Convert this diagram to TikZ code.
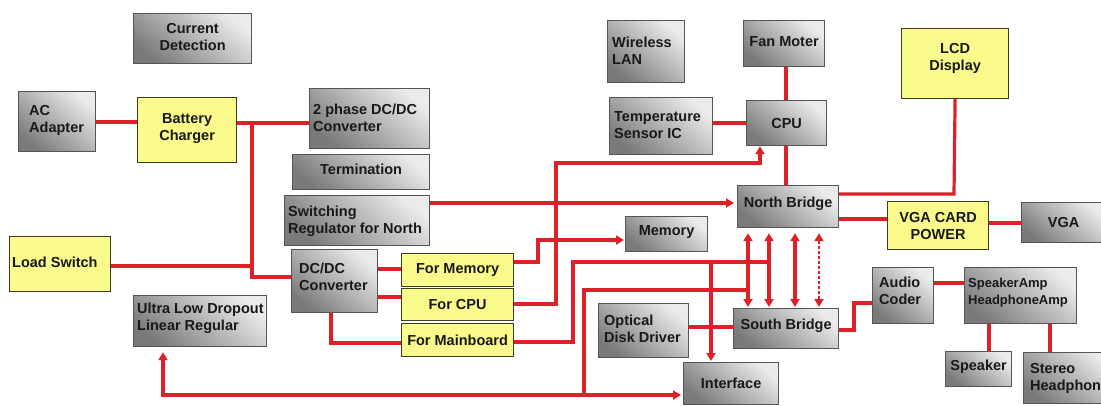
\documentclass[tikz,border=0pt]{standalone}
\usepackage{fontspec}
\setmainfont{Liberation Sans}
\usetikzlibrary{arrows.meta,calc}
\definecolor{wirered}{RGB}{222,32,40}
\definecolor{boxedge}{RGB}{85,85,85}
\definecolor{yfill}{RGB}{250,250,140}
\definecolor{yedge}{RGB}{60,60,30}
\definecolor{txtc}{RGB}{25,25,25}
\newcommand{\bx}[6]{\node[#2, anchor=north west, minimum width={#5-#3}, minimum height={#6-#4}] (#1) at (#3,#4) {};}
\newcommand{\ctext}[3]{\node[txt, align=center] (#1-t) at ($(#1.center)+(0,#2)$) {#3};}
\newcommand{\ltext}[4]{\node[txt, align=left, anchor=west] (#1-t) at ($(#1.west)+(#2,#3)$) {#4};}
\tikzset{
  gbox/.style={draw=boxedge, line width=1.2pt, top color=black!8, bottom color=black!52, shading angle=-40, inner sep=0pt},
  ybox/.style={draw=yedge, line width=1.2pt, fill=yfill, inner sep=0pt},
  txt/.style={font=\fontsize{14.5}{17}\selectfont\bfseries, text=txtc, inner sep=0pt},
  smalltxt/.style={font=\fontsize{13}{16.5}\selectfont\bfseries, text=txtc, inner sep=0pt},
  wire/.style={draw=wirered, line width=3.2pt},
  dotwire/.style={draw=wirered, line width=2.4pt, dash pattern=on 3pt off 2pt},
}
\begin{document}
\begin{tikzpicture}[x=1pt, y=-1pt, >={Triangle[length=8pt,width=9pt]}]
\useasboundingbox (0,0) rectangle (1101,405);
\fill[white] (0,0) rectangle (1101,405);
\clip (0,0) rectangle (1101,405);

% boxes
\bx{cd}{gbox}{133}{13}{251}{63}
\bx{ac}{gbox}{18}{91}{95}{151}
\bx{bc}{ybox}{137}{97}{236}{162}
\bx{tp}{gbox}{309}{88}{429}{148}
\bx{term}{gbox}{292}{154}{429}{189}
\bx{sw}{gbox}{284}{195}{429}{245}
\bx{dcdc}{gbox}{291}{249}{377}{312}
\bx{ls}{ybox}{9}{236}{110}{291}
\bx{uldo}{gbox}{133}{295}{266}{346}
\bx{fm}{ybox}{401}{253}{513}{286}
\bx{fc}{ybox}{401}{288}{513}{320}
\bx{fmb}{ybox}{401}{323}{513}{356}
\bx{mem}{gbox}{625}{216}{707}{251}
\bx{wl}{gbox}{607}{20}{684}{82}
\bx{ts}{gbox}{609}{97}{712}{154}
\bx{fan}{gbox}{743}{20}{824}{66}
\bx{cpu}{gbox}{746}{100}{826}{145}
\bx{nb}{gbox}{737}{185}{838}{227}
\bx{sb}{gbox}{733}{308}{838}{348}
\bx{odd}{gbox}{598}{303}{688}{357}
\bx{intf}{gbox}{683}{362}{778}{404}
\bx{lcd}{ybox}{901}{28}{1008}{98}
\bx{vgap}{ybox}{887}{201}{988}{249}
\bx{vga}{gbox}{1021}{202}{1105}{242}
\bx{ac2}{gbox}{872}{267}{933}{323}
\bx{amp}{gbox}{964}{267}{1076}{323}
\bx{spk}{gbox}{945}{351}{1011}{386}
\bx{sh}{gbox}{1023}{352}{1115}{403}

% texts
\ctext{cd}{-2}{Current\\Detection}
\ltext{ac}{11}{-1}{AC\\Adapter}
\ctext{bc}{-1.5}{Battery\\Charger}
\ltext{tp}{4}{-1}{2 phase DC/DC\\Converter}
\ctext{term}{-3}{Termination}
\ltext{sw}{4}{1}{Switching\\Regulator for North}
\ltext{dcdc}{8}{-4}{DC/DC\\Converter}
\ltext{ls}{3}{-1.5}{Load Switch}
\ltext{uldo}{4}{-2.5}{Ultra Low Dropout\\Linear Regular}
\ctext{fm}{0}{For Memory}
\ctext{fc}{0}{For CPU}
\ctext{fmb}{0}{For Mainboard}
\ctext{mem}{-2.5}{Memory}
\ltext{wl}{5}{-1}{Wireless\\LAN}
\ltext{ts}{5}{-1.5}{Temperature\\Sensor IC}
\ctext{fan}{-2}{Fan Moter}
\ctext{cpu}{0}{CPU}
\ctext{nb}{-3}{North Bridge}
\ctext{sb}{-3}{South Bridge}
\ltext{odd}{6}{-2}{Optical\\Disk Driver}
\ctext{intf}{-0.5}{Interface}
\ctext{lcd}{-5}{LCD\\Display}
\ctext{vgap}{0}{VGA CARD\\POWER}
\ctext{vga}{0}{VGA}
\ltext{ac2}{7}{-4.5}{Audio\\Coder}
\node[smalltxt, align=left, anchor=west] (amp-t) at ($(amp.west)+(4,-3)$) {SpeakerAmp\\HeadphoneAmp};
\ctext{spk}{-2.5}{Speaker}
\ltext{sh}{7}{0}{Stereo\\Headphone}

% junction coordinates
\coordinate (j1) at (252,123);
\coordinate (j2) at (252,277);
\coordinate (j3) at (252,266);
\coordinate (m1) at (538,262);
\coordinate (m2) at (538,240);
\coordinate (c1) at (556,304);
\coordinate (c2) at (556,163);
\coordinate (c3) at (760,163);
\coordinate (b1) at (573,342);
\coordinate (b2) at (573,262);
\coordinate (b3) at (711,262);
\coordinate (b4) at (769,262);
\coordinate (i1) at (584,395);
\coordinate (i2) at (163,395);
\coordinate (i3) at (584,290);
\coordinate (i4) at (748,290);
\coordinate (l1) at (954,194);
\coordinate (a1) at (854,330);
\coordinate (a2) at (854,303);

% connectors
\draw[wire] (ac.east |- 0,122) -- (bc.west |- 0,122);
\draw[wire] (bc.east |- j1) -- (tp.west |- j1);
\draw[wire] (j1) -- (j2) -- (dcdc.west |- j2);
\draw[wire] (ls.east |- j3) -- (j3);
\draw[wire,->,shorten >=3pt] (sw.east |- 0,203) -- (nb.west |- 0,203);
\draw[wire] (dcdc.east |- 0,269) -- (fm.west |- 0,269);
\draw[wire] (dcdc.east |- 0,297) -- (fc.west |- 0,297);
\draw[wire] (dcdc.south -| 331,0) |- (fmb.west |- 0,343);
\draw[wire,->,shorten >=1pt] (fm.east |- m1) -- (m1) -- (m2) -- (mem.west |- m2);
\draw[wire,->] (fc.east |- c1) -- (c1) -- (c2) -- (c3) -- (cpu.south -| c3);
\draw[wire] (fmb.east |- b1) -- (b1) -- (b2) -- (b4);
\draw[wire,->,shorten >=1pt] (b3) -- (intf.north -| b3);
\draw[wire,->,shorten >=2pt] (i1) -- (intf.west |- i1);
\draw[wire,->,shorten >=5pt] (i1) -- (i2) -- (uldo.south -| i2);
\draw[wire] (i1) -- (i3) -- (i4);
\draw[wire] (ts.east |- 0,123) -- (cpu.west |- 0,123);
\draw[wire] (fan.south -| 786,0) -- (cpu.north -| 786,0);
\draw[wire] (cpu.south -| 786,0) -- (nb.north -| 786,0);
\draw[wire] (nb.east |- l1) -- (l1) -- (lcd.south);
\draw[wire] (nb.east |- 0,219) -- (vgap.west |- 0,219);
\draw[wire] (vgap.east |- 0,223) -- (vga.west |- 0,223);
\foreach \xx in {748,769,795}{
  \draw[wire,<->,shorten <=5pt,shorten >=1pt] (nb.south -| \xx,0) -- (sb.north -| \xx,0);
}
\draw[dotwire,<->,shorten <=5pt,shorten >=1pt] (nb.south -| 819,0) -- (sb.north -| 819,0);
\draw[wire] (odd.east |- 0,327) -- (sb.west |- 0,327);
\draw[wire] (sb.east |- a1) -- (a1) -- (a2) -- (ac2.west |- a2);
\draw[wire] (ac2.east |- 0,283) -- (amp.west |- 0,283);
\draw[wire] (amp.south -| 989,0) -- (spk.north -| 989,0);
\draw[wire] (amp.south -| 1050,0) -- (sh.north -| 1050,0);
\end{tikzpicture}
\end{document}
